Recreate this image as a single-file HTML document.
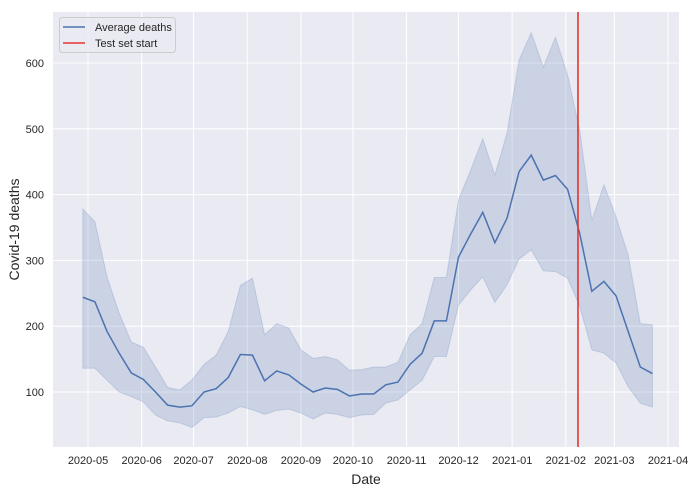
<!DOCTYPE html>
<html><head><meta charset="utf-8"><style>
body{margin:0;background:#fff;width:695px;height:492px;overflow:hidden;font-family:"Liberation Sans",sans-serif}
</style></head><body>
<svg id="chart" width="695" height="492" xmlns="http://www.w3.org/2000/svg" font-family="Liberation Sans, sans-serif"></svg>
<script>
const startDate = "2020-04-28";
const meanDeaths = [244,237,192,159,129,119,100,80,77,79,100,105,122,157,156,117,132,126,112,100,106,104,94,97,97,111,115,142,159,208,208,305,340,373,327,364,435,460,422,429,408,341,253,268,246,192,138,128];
const upperBand = [378,359,275,220,176,168,138,107,103,118,142,156,192,262,273,187,204,197,164,151,154,149,133,134,138,138,145,187,204,274,274,392,437,485,430,493,605,646,594,639,582,498,361,415,366,308,204,202];
const lowerBand = [136,136,118,100,93,85,65,56,53,46,61,62,68,78,73,66,72,74,68,59,68,66,61,65,66,83,88,103,118,154,154,232,255,275,236,263,302,316,284,283,273,230,164,159,144,108,83,77];
const yTicks = [100,200,300,400,500,600];
const xTickLabels = ["2020-05","2020-06","2020-07","2020-08","2020-09","2020-10","2020-11","2020-12","2021-01","2021-02","2021-03","2021-04"];
const testStart = "2021-02-08";

const NS="http://www.w3.org/2000/svg";
const svg=document.getElementById('chart');
const L=53,R=679,T=12,B=447;
const t0=Date.parse("2020-05-01"), t1=Date.parse("2021-04-01");
function xd(ms){return 88+(ms-t0)/(t1-t0)*(668-88);}
function y(v){return 392-(v-100)*0.658;}
function mk(tag,attrs,parent){const e=document.createElementNS(NS,tag);for(const k in attrs)e.setAttribute(k,attrs[k]);(parent||svg).appendChild(e);return e;}
const DAY=86400000;
const dates=meanDeaths.map((_,i)=>Date.parse(startDate)+i*7*DAY);

const bg=mk('rect',{x:L,y:T,width:R-L,height:B-T,fill:'#EAEAF2'});



yTicks.forEach(v=>{
  const g=mk('line',{x1:L,x2:R,y1:y(v),y2:y(v),stroke:'#fff','stroke-width':1});
  
  
  const t=mk('text',{x:L-9,y:y(v)+4,'text-anchor':'end','font-size':11,fill:'#262626'});
  t.textContent=v;
  
  
});
xTickLabels.forEach(s=>{
  const xx=xd(Date.parse(s+"-01"));
  const g=mk('line',{x1:xx,x2:xx,y1:T,y2:B,stroke:'#fff','stroke-width':1});
  
  
  const t=mk('text',{x:xx,y:B+17,'text-anchor':'middle','font-size':11,fill:'#262626'});
  t.textContent=s;
  
  
});

let pts=dates.map((d,i)=>xd(d)+','+y(upperBand[i]));
pts=pts.concat(dates.map((d,i)=>xd(d)+','+y(lowerBand[i])).reverse());
const band=mk('polygon',{points:pts.join(' '),fill:'#4C72B0','fill-opacity':0.2,stroke:'#4C72B0','stroke-opacity':0.2});



const line=mk('polyline',{points:dates.map((d,i)=>xd(d)+','+y(meanDeaths[i])).join(' '),fill:'none',stroke:'#4C72B0','stroke-width':1.5});



const tx=xd(Date.parse(testStart));
const red=mk('line',{x1:tx,x2:tx,y1:T,y2:B,stroke:'#E8322E','stroke-width':1.6});



const lg=mk('g',{});


mk('rect',{x:59.5,y:17.5,width:116,height:35,rx:3,fill:'#EAEAF2',stroke:'#ccc','fill-opacity':0.8},lg);
mk('line',{x1:63,x2:85,y1:27,y2:27,stroke:'#4C72B0','stroke-width':1.5},lg);
mk('line',{x1:63,x2:85,y1:43,y2:43,stroke:'#E8322E','stroke-width':1.5},lg);
const l1=mk('text',{x:95,y:31,'font-size':11,fill:'#262626'},lg);l1.textContent='Average deaths';


const l2=mk('text',{x:95,y:47,'font-size':11,fill:'#262626'},lg);l2.textContent='Test set start';



const xl=mk('text',{x:(L+R)/2,y:484,'text-anchor':'middle','font-size':14,fill:'#262626'});
xl.textContent='Date';


const yl=mk('text',{x:0,y:0,'text-anchor':'middle','font-size':14,fill:'#262626',transform:'translate(19,'+((T+B)/2)+') rotate(-90)'});
yl.textContent='Covid-19 deaths';


</script>
</body></html>
